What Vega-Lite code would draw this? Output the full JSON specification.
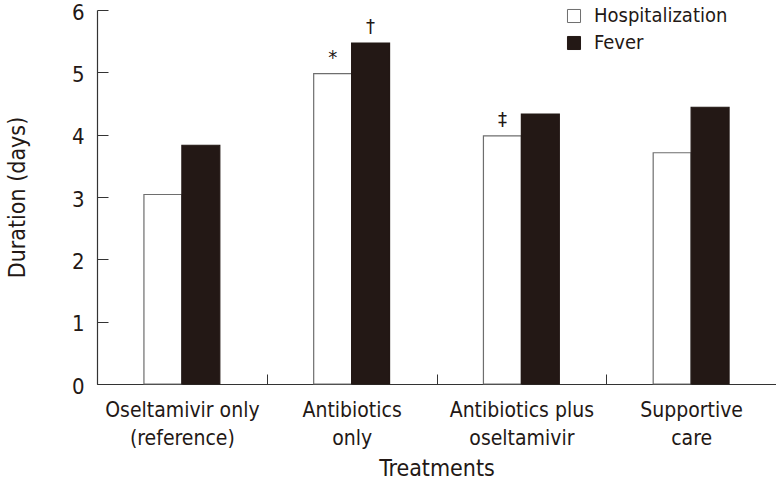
{
  "$schema": "https://vega.github.io/schema/vega-lite/v6.json",
  "width": 679,
  "height": 374,
  "autosize": {"type": "none"},
  "padding": {"left": 97, "top": 10, "right": 0, "bottom": 105},
  "background": "white",
  "config": {
    "font": "DejaVu Sans Condensed, sans-serif",
    "view": {"stroke": null},
    "axis": {"domainColor": "#333333", "tickColor": "#333333", "labelColor": "#231815", "titleColor": "#231815", "grid": false, "titleFontWeight": "normal"}
  },
  "data": {
    "values": [
      {"treatment": "Oseltamivir only|(reference)", "measure": "Hospitalization", "days": 3.04, "note": ""},
      {"treatment": "Oseltamivir only|(reference)", "measure": "Fever", "days": 3.83, "note": ""},
      {"treatment": "Antibiotics|only", "measure": "Hospitalization", "days": 4.98, "note": "*"},
      {"treatment": "Antibiotics|only", "measure": "Fever", "days": 5.47, "note": "†"},
      {"treatment": "Antibiotics plus|oseltamivir", "measure": "Hospitalization", "days": 3.98, "note": "‡"},
      {"treatment": "Antibiotics plus|oseltamivir", "measure": "Fever", "days": 4.33, "note": ""},
      {"treatment": "Supportive|care", "measure": "Hospitalization", "days": 3.71, "note": ""},
      {"treatment": "Supportive|care", "measure": "Fever", "days": 4.44, "note": ""}
    ]
  },
  "encoding": {
    "x": {
      "field": "treatment", "type": "nominal", "sort": null,
      "scale": {"paddingInner": 0, "paddingOuter": 0},
      "axis": {
        "title": "Treatments", "labelAngle": 0, "labelFontSize": 21, "titleFontSize": 23,
        "labelExpr": "split(datum.label, '|')", "labelLineHeight": 28,
        "tickBand": "extent", "tickSize": -10, "labelPadding": 25, "titlePadding": 9,
        "domainWidth": 1.2, "tickWidth": 1
      }
    },
    "xOffset": {"field": "measure", "type": "nominal", "scale": {"domain": ["_left", "Hospitalization", "Fever", "_right"], "paddingInner": 0, "paddingOuter": 0.237}},
    "y": {
      "field": "days", "type": "quantitative",
      "scale": {"domain": [0, 6], "nice": false},
      "axis": {
        "title": "Duration (days)", "values": [0, 1, 2, 3, 4, 5, 6], "labelFontSize": 22, "titleFontSize": 23,
        "tickSize": -11, "labelPadding": 24, "labelOffset": 2, "titlePadding": 42, "domainWidth": 1.2, "tickWidth": 1
      }
    }
  },
  "layer": [
    {
      "mark": {"type": "bar", "strokeWidth": 1.2},
      "encoding": {
        "fill": {
          "field": "measure", "type": "nominal",
          "scale": {"domain": ["Hospitalization", "Fever"], "range": ["#ffffff", "#231815"]},
          "legend": {
            "title": null, "orient": "none", "legendX": 467, "legendY": -4,
            "symbolType": "square", "symbolSize": 170, "symbolStrokeColor": "#444444", "symbolStrokeWidth": 1,
            "labelFontSize": 20, "labelColor": "#231815", "labelOffset": 10, "rowPadding": 7
          }
        },
        "stroke": {
          "field": "measure", "type": "nominal",
          "scale": {"domain": ["Hospitalization", "Fever"], "range": ["#6e6e6e", "#231815"]},
          "legend": null
        }
      }
    },
    {
      "mark": {"type": "text", "baseline": "bottom", "dy": -6, "fontSize": 20, "color": "#231815"},
      "encoding": {"text": {"field": "note"}}
    }
  ]
}
